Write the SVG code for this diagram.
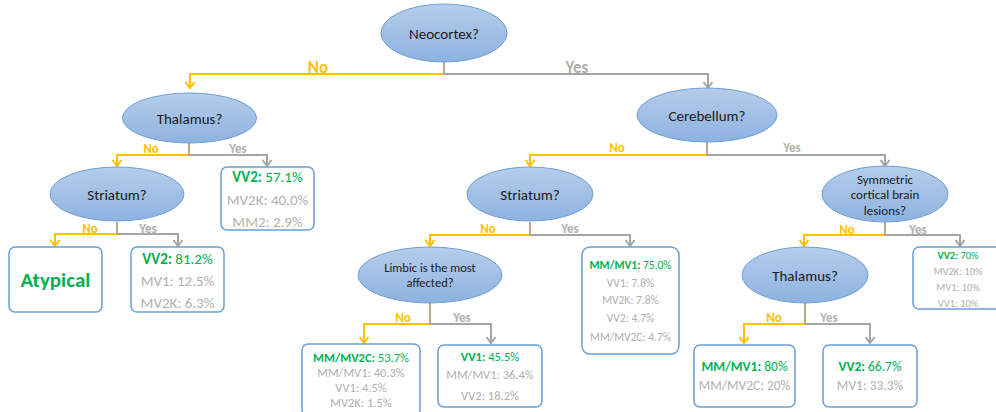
<svg xmlns="http://www.w3.org/2000/svg" width="996" height="412" viewBox="0 0 996 412">
<defs>
<linearGradient id="g" x1="0" y1="0" x2="0" y2="1">
<stop offset="0" stop-color="#b7cdeb"/>
<stop offset="1" stop-color="#8db2df"/>
</linearGradient>
<marker id="ao" markerUnits="userSpaceOnUse" markerWidth="12" markerHeight="12" refX="7" refY="6" orient="auto" overflow="visible">
<path d="M1,1.5 L7,6 L1,10.5" fill="none" stroke="#ffc000" stroke-width="2"/>
</marker>
<marker id="ag" markerUnits="userSpaceOnUse" markerWidth="12" markerHeight="12" refX="7" refY="6" orient="auto" overflow="visible">
<path d="M1,1.5 L7,6 L1,10.5" fill="none" stroke="#a5a5a5" stroke-width="2"/>
</marker>
</defs>
<style>
text{font-family:"Carlito","Lato","Open Sans",sans-serif;text-anchor:middle}
.q ellipse{fill:url(#g);stroke:#6d9fd5;stroke-width:1}
.q text{fill:#1a1a1a}
.b rect{fill:#fff;stroke:#6a9fd6;stroke-width:1.5}
.gr{fill:#00b050}
.gy{fill:#b0b0b0}
.no{fill:#ffc000;font-weight:bold}
.yes{fill:#b0b0b0;font-weight:bold}
.lo{fill:none;stroke:#ffc000;stroke-width:2;marker-end:url(#ao)}
.lg{fill:none;stroke:#a5a5a5;stroke-width:2;marker-end:url(#ag)}
.st{fill:none;stroke:#b8aa88;stroke-width:2}
</style>

<g id="connectors">
<path class="lo" d="M444,74 H190 V88"/>
<path class="lg" d="M444,74 H708 V88"/>
<path class="st" d="M444,62 V74"/>
<text class="no" x="318" y="73" font-size="17">No</text>
<text class="yes" x="577" y="73" font-size="17">Yes</text>

<path class="lo" d="M189,155 H117 V166"/>
<path class="lg" d="M189,155 H267 V166"/>
<path class="st" d="M189,143 V155"/>
<text class="no" x="151" y="153" font-size="13">No</text>
<text class="yes" x="238" y="153" font-size="13">Yes</text>

<path class="lo" d="M117,234 H55 V246"/>
<path class="lg" d="M117,234 H178 V246"/>
<path class="st" d="M117,222 V234"/>
<text class="no" x="90" y="233" font-size="13">No</text>
<text class="yes" x="148" y="233" font-size="13">Yes</text>

<path class="lo" d="M707,155 H530 V166"/>
<path class="lg" d="M707,155 H885 V166"/>
<path class="st" d="M707,142 V155"/>
<text class="no" x="617" y="152" font-size="13">No</text>
<text class="yes" x="792" y="152" font-size="13">Yes</text>

<path class="lo" d="M530,235 H430 V246"/>
<path class="lg" d="M530,235 H630 V246"/>
<path class="st" d="M530,222 V235"/>
<text class="no" x="488" y="233" font-size="13">No</text>
<text class="yes" x="570" y="233" font-size="13">Yes</text>

<path class="lo" d="M885,235 H804 V246"/>
<path class="lg" d="M885,235 H960 V246"/>
<path class="st" d="M885,222 V235"/>
<text class="no" x="847" y="234" font-size="13">No</text>
<text class="yes" x="918" y="234" font-size="13">Yes</text>

<path class="lo" d="M430,324 H364 V343"/>
<path class="lg" d="M430,324 H491 V343"/>
<path class="st" d="M430,303 V324"/>
<text class="no" x="403" y="322" font-size="13">No</text>
<text class="yes" x="462" y="322" font-size="13">Yes</text>

<path class="lo" d="M805,324 H744 V343"/>
<path class="lg" d="M805,324 H870 V343"/>
<path class="st" d="M805,303 V324"/>
<text class="no" x="774" y="322" font-size="13">No</text>
<text class="yes" x="829" y="322" font-size="13">Yes</text>
</g>

<g id="neocortex" class="q"><ellipse cx="444" cy="33" rx="63" ry="29"/><text x="444" y="38.5" font-size="15">Neocortex?</text></g>
<g id="thalamus1" class="q"><ellipse cx="189.5" cy="118" rx="67" ry="25"/><text x="189.5" y="123.5" font-size="15">Thalamus?</text></g>
<g id="cerebellum" class="q"><ellipse cx="707" cy="115" rx="70" ry="27"/><text x="707" y="120.5" font-size="15">Cerebellum?</text></g>
<g id="striatum1" class="q"><ellipse cx="117" cy="194" rx="67" ry="27"/><text x="117" y="199.5" font-size="15">Striatum?</text></g>
<g id="striatum2" class="q"><ellipse cx="530" cy="194" rx="63" ry="27"/><text x="530" y="199.5" font-size="15">Striatum?</text></g>
<g id="symmetric" class="q"><ellipse cx="885" cy="194" rx="63" ry="28"/>
<text x="885" y="183.5" font-size="13">Symmetric</text><text x="885" y="199" font-size="13">cortical brain</text><text x="885" y="214.5" font-size="13">lesions?</text></g>
<g id="limbic" class="q"><ellipse cx="430" cy="275" rx="72" ry="28"/>
<text x="430" y="272" font-size="12.5">Limbic is the most</text><text x="430" y="287" font-size="12.5">affected?</text></g>
<g id="thalamus2" class="q"><ellipse cx="805" cy="275" rx="63" ry="28"/><text x="805" y="280.5" font-size="15">Thalamus?</text></g>

<g id="box-vv2-571" class="b"><rect x="221" y="167" width="93" height="63" rx="6"/>
<text x="267.5" y="181.5" font-size="15"><tspan class="gr" font-weight="bold">VV2:</tspan><tspan class="gr"> 57.1%</tspan></text>
<text class="gy" x="267.5" y="204.5" font-size="15">MV2K: 40.0%</text>
<text class="gy" x="267.5" y="226.5" font-size="15">MM2: 2.9%</text></g>

<g id="box-atypical" class="b"><rect x="9" y="247" width="93" height="65" rx="6"/>
<text class="gr" x="55.5" y="287" font-size="21" font-weight="bold">Atypical</text></g>

<g id="box-vv2-812" class="b"><rect x="131" y="247" width="93" height="65" rx="6"/>
<text x="177.5" y="263.5" font-size="15"><tspan class="gr" font-weight="bold">VV2:</tspan><tspan class="gr"> 81.2%</tspan></text>
<text class="gy" x="177.5" y="285.5" font-size="15">MV1: 12.5%</text>
<text class="gy" x="177.5" y="308" font-size="15">MV2K: 6.3%</text></g>

<g id="box-mmmv1-75" class="b"><rect x="582" y="247" width="97" height="107" rx="8"/>
<text x="630.5" y="269" font-size="11.5"><tspan class="gr" font-weight="bold">MM/MV1:</tspan><tspan class="gr"> 75.0%</tspan></text>
<text class="gy" x="630.5" y="287" font-size="11.5">VV1: 7.8%</text>
<text class="gy" x="630.5" y="304" font-size="11.5">MV2K: 7.8%</text>
<text class="gy" x="630.5" y="322" font-size="11.5">VV2: 4.7%</text>
<text class="gy" x="630.5" y="341" font-size="11.5">MM/MV2C: 4.7%</text></g>

<g id="box-vv2-70" class="b"><rect x="913" y="247" width="92" height="62" rx="6"/>
<text x="958" y="259" font-size="10.5"><tspan class="gr" font-weight="bold">VV2:</tspan><tspan class="gr"> 70%</tspan></text>
<text class="gy" x="958" y="275" font-size="10.5">MV2K: 10%</text>
<text class="gy" x="958" y="291" font-size="10.5">MV1: 10%</text>
<text class="gy" x="958" y="307" font-size="10.5">VV1: 10%</text></g>

<g id="box-mmmv2c-537" class="b"><rect x="302" y="344" width="118" height="72" rx="6"/>
<text x="361" y="361.5" font-size="12.5"><tspan class="gr" font-weight="bold">MM/MV2C:</tspan><tspan class="gr"> 53.7%</tspan></text>
<text class="gy" x="361" y="376.5" font-size="12.5">MM/MV1: 40.3%</text>
<text class="gy" x="361" y="391.5" font-size="12.5">VV1: 4.5%</text>
<text class="gy" x="361" y="406.5" font-size="12.5">MV2K: 1.5%</text></g>

<g id="box-vv1-455" class="b"><rect x="438" y="345" width="104" height="62" rx="6"/>
<text x="490" y="360.5" font-size="12.5"><tspan class="gr" font-weight="bold">VV1:</tspan><tspan class="gr"> 45.5%</tspan></text>
<text class="gy" x="490" y="378.5" font-size="12.5">MM/MV1: 36.4%</text>
<text class="gy" x="490" y="399.5" font-size="12.5">VV2: 18.2%</text></g>

<g id="box-mmmv1-80" class="b"><rect x="694" y="345" width="101" height="62" rx="6"/>
<text x="744.5" y="371" font-size="13.5"><tspan class="gr" font-weight="bold">MM/MV1:</tspan><tspan class="gr"> 80%</tspan></text>
<text class="gy" x="744.5" y="390" font-size="13.5">MM/MV2C: 20%</text></g>

<g id="box-vv2-667" class="b"><rect x="823" y="345" width="94" height="62" rx="6"/>
<text x="870" y="371" font-size="13.5"><tspan class="gr" font-weight="bold">VV2:</tspan><tspan class="gr"> 66.7%</tspan></text>
<text class="gy" x="870" y="390" font-size="13.5">MV1: 33.3%</text></g>
</svg>
